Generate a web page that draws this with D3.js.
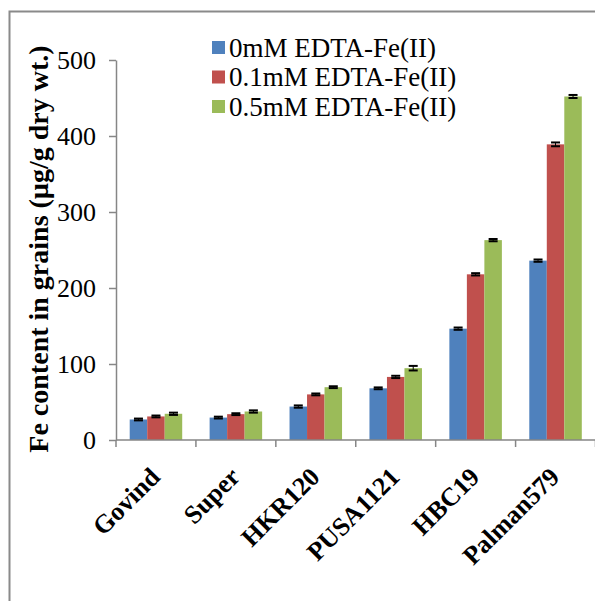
<!DOCTYPE html>
<html>
<head>
<meta charset="utf-8">
<script src="https://cdn.jsdelivr.net/npm/d3@7"></script>
<style>
  html, body { margin: 0; padding: 0; background: #fff; }
  svg { display: block; }
  text { font-family: "Liberation Serif", "Times New Roman", serif; fill: #000; }
</style>
</head>
<body>
<svg id="chart" width="595" height="601"></svg>
<script>
// Rice cultivars and Fe content of grains (µg/g dry wt.)
const cultivars = ["Govind", "Super", "HKR120", "PUSA1121", "HBC19", "Palman579"];
const seriesNames = ["0mM EDTA-Fe(II)", "0.1mM EDTA-Fe(II)", "0.5mM EDTA-Fe(II)"];
const fe0mM  = [27, 29.5, 44, 68, 146.5, 236];
const fe01mM = [31, 34, 60, 83, 218, 389];
const fe05mM = [34.5, 37.5, 69.5, 94.5, 263, 452];
const err0mM  = [1.2, 1.2, 1.5, 1.2, 1.5, 1.5];
const err01mM = [1.2, 1.2, 1.2, 1.5, 1.5, 2.5];
const err05mM = [1.5, 1.5, 1.2, 3, 1.5, 2];
const yTicks = [0, 100, 200, 300, 400, 500];
const colors = ["#4F81BD", "#C0504D", "#9BBB59"];

const values = [fe0mM, fe01mM, fe05mM];
const errors = [err0mM, err01mM, err05mM];

const svg = d3.select("#chart");
const axisColor = "#868686";

// outer frame
svg.append("path")
  .attr("d", "M9.5,601 L9.5,11.5 L595,11.5")
  .attr("fill", "none").attr("stroke", "#8a8a8a").attr("stroke-width", 2);

const plot = { left: 116, right: 595.5, top: 60, bottom: 440 };

const x = d3.scaleBand()
  .domain(cultivars)
  .range([plot.left, plot.right])
  .paddingInner(0.343)
  .paddingOuter(0.1715);

const xs = d3.scaleBand()
  .domain(d3.range(seriesNames.length))
  .range([0, x.bandwidth()]);

const y = d3.scaleLinear().domain([0, 500]).range([plot.bottom, plot.top]);

// bars
const groups = svg.append("g").selectAll("g")
  .data(cultivars)
  .join("g")
  .attr("transform", c => `translate(${x(c)},0)`);

groups.each(function (c, i) {
  const g = d3.select(this);
  seriesNames.forEach((s, k) => {
    const v = values[k][i];
    g.append("rect")
      .attr("x", xs(k))
      .attr("width", xs.bandwidth())
      .attr("y", y(v))
      .attr("height", y(0) - y(v))
      .attr("fill", colors[k]);
  });
});

// error bars
groups.each(function (c, i) {
  const g = d3.select(this);
  seriesNames.forEach((s, k) => {
    const v = values[k][i], e = errors[k][i];
    const cx = xs(k) + xs.bandwidth() / 2;
    const hw = 4.5;
    g.append("line")
      .attr("x1", cx).attr("x2", cx)
      .attr("y1", y(v + e)).attr("y2", y(v - e))
      .attr("stroke", "#000").attr("stroke-width", 1);
    [v + e, v - e].forEach(t => {
      g.append("line")
        .attr("x1", cx - hw).attr("x2", cx + hw)
        .attr("y1", y(t)).attr("y2", y(t))
        .attr("stroke", "#000").attr("stroke-width", 2);
    });
  });
});

// y axis
const yAxis = svg.append("g")
  .attr("transform", `translate(${plot.left},0)`)
  .call(d3.axisLeft(y).tickValues(yTicks).tickSize(7).tickSizeOuter(0).tickPadding(13));
yAxis.select(".domain").attr("stroke", axisColor).attr("stroke-width", 1.5);
yAxis.selectAll(".tick line").attr("stroke", axisColor).attr("stroke-width", 1.5);
yAxis.selectAll(".tick text")
  .style("font-family", "'Liberation Serif', 'Times New Roman', serif")
  .style("font-size", "26px").attr("fill", "#000");

// x axis: line with ticks on category boundaries
const step = x.step();
const boundaries = d3.range(cultivars.length + 1).map(i => plot.left + i * step);
svg.append("line")
  .attr("x1", plot.left).attr("x2", plot.right)
  .attr("y1", plot.bottom).attr("y2", plot.bottom)
  .attr("stroke", axisColor).attr("stroke-width", 1.5);
svg.append("g").selectAll("line")
  .data(boundaries)
  .join("line")
  .attr("x1", d => d).attr("x2", d => d)
  .attr("y1", plot.bottom).attr("y2", plot.bottom + 7)
  .attr("stroke", axisColor).attr("stroke-width", 1.5);

// category labels, rotated
svg.append("g").selectAll("text")
  .data(cultivars)
  .join("text")
  .attr("transform", c => `translate(${x(c) + x.bandwidth() / 2 - 1},${plot.bottom + 32}) rotate(-45)`)
  .attr("text-anchor", "end")
  .attr("dy", "0.35em")
  .style("font-size", "26px")
  .style("font-weight", "bold")
  .text(c => c);

// y axis title
svg.append("text")
  .attr("transform", "translate(38,249) rotate(-90)")
  .attr("text-anchor", "middle")
  .attr("dy", "0.35em")
  .style("font-size", "28px")
  .style("font-weight", "bold")
  .text("Fe content in grains (µg/g dry wt.)");

// legend
const legend = svg.append("g").selectAll("g")
  .data(seriesNames)
  .join("g")
  .attr("transform", (d, i) => `translate(212,${47.5 + i * 29.5})`);
legend.append("rect")
  .attr("x", 0).attr("y", -6.5)
  .attr("width", 13).attr("height", 13)
  .attr("fill", (d, i) => colors[i]);
legend.append("text")
  .attr("x", 17)
  .attr("dy", "0.35em")
  .style("font-size", "27px")
  .text(d => d);
</script>
</body>
</html>
